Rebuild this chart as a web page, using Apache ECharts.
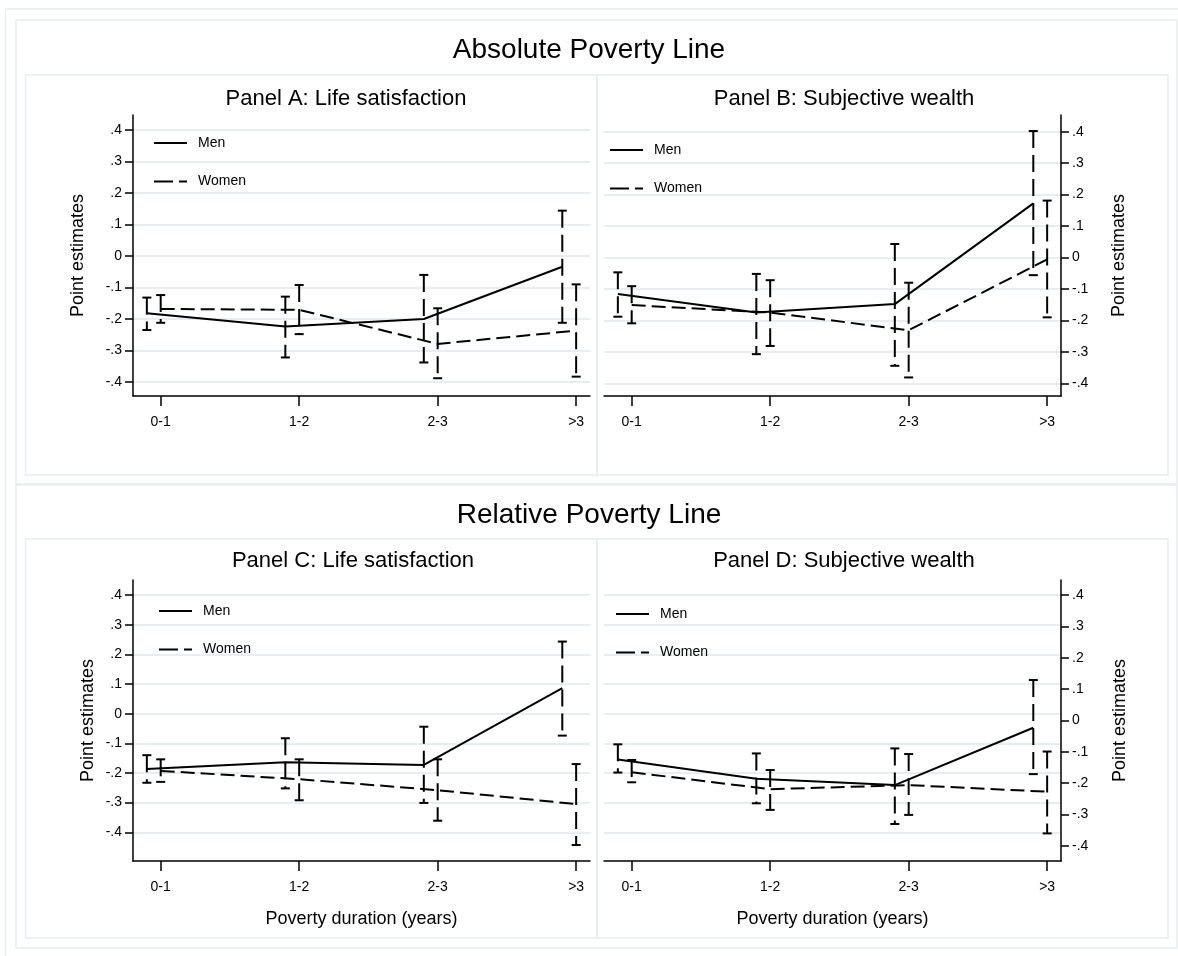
<!DOCTYPE html>
<html><head><meta charset="utf-8">
<script src="https://cdn.jsdelivr.net/npm/echarts@6/dist/echarts.min.js"></script>
<style>html,body{margin:0;padding:0;background:#fff}#c{width:1178px;height:956px}</style>
</head><body><div id="c"></div>
<script>
// ---- data ----
const categories = ['0-1', '1-2', '2-3', '>3'];
const yTicks = [-0.4, -0.3, -0.2, -0.1, 0, 0.1, 0.2, 0.3, 0.4];
const seriesNames = ['Men', 'Women'];

// Panel A: Life satisfaction (absolute poverty line)
const aMen      = [-0.182, -0.224, -0.200, -0.034];
const aMenLo    = [-0.235, -0.322, -0.338, -0.212];
const aMenHi    = [-0.132, -0.129, -0.060,  0.144];
const aWomen    = [-0.168, -0.171, -0.279, -0.237];
const aWomenLo  = [-0.212, -0.248, -0.388, -0.383];
const aWomenHi  = [-0.124, -0.092, -0.166, -0.090];

// Panel B: Subjective wealth (absolute poverty line)
const bMen      = [-0.116, -0.175, -0.148,  0.172];
const bMenLo    = [-0.188, -0.307, -0.344, -0.056];
const bMenHi    = [-0.047, -0.052,  0.043,  0.402];
const bWomen    = [-0.151, -0.175, -0.231, -0.006];
const bWomenLo  = [-0.209, -0.281, -0.381, -0.190];
const bWomenHi  = [-0.091, -0.072, -0.080,  0.181];

// Panel C: Life satisfaction (relative poverty line)
const cMen      = [-0.187, -0.164, -0.173,  0.086];
const cMenLo    = [-0.233, -0.252, -0.301, -0.074];
const cMenHi    = [-0.140, -0.083, -0.044,  0.243];
const cWomen    = [-0.193, -0.221, -0.258, -0.305];
const cWomenLo  = [-0.230, -0.292, -0.361, -0.443];
const cWomenHi  = [-0.154, -0.154, -0.154, -0.170];

// Panel D: Subjective wealth (relative poverty line)
const dMen      = [-0.124, -0.186, -0.206, -0.023];
const dMenLo    = [-0.166, -0.264, -0.330, -0.171];
const dMenHi    = [-0.076, -0.105, -0.089,  0.129];
const dWomen    = [-0.165, -0.219, -0.206, -0.227];
const dWomenLo  = [-0.197, -0.285, -0.301, -0.360];
const dWomenHi  = [-0.126, -0.158, -0.107, -0.099];

// ---- chart ----
const FONT = "'Liberation Sans', Arial, Helvetica, sans-serif";
const GRIDC = '#e6eef1';
const MEN_SHIFT = -0.1;

function fmtY(v) {
  if (Math.abs(v) < 1e-9) return '0';
  const s = (Math.round(v * 10) / 10).toString();
  return s.replace('0.', '.');
}

const grids = [
  {left: 133, top: 115, width: 457, height: 281},
  {left: 604, top: 115, width: 457, height: 281},
  {left: 133, top: 580, width: 457, height: 281},
  {left: 604, top: 580, width: 457, height: 281}
];

function xAx(g, withName) {
  return {
    type: 'value', gridIndex: g, min: 0.8, max: 4.1, position: 'bottom',
    axisLine: {onZero: false, lineStyle: {color: '#000', width: 1.5}},
    axisTick: {length: 10, customValues: [1, 2, 3, 4], lineStyle: {color: '#000', width: 1.5}},
    axisLabel: {customValues: [1, 2, 3, 4], formatter: v => categories[Math.round(v) - 1],
      color: '#000', fontSize: 14, fontFamily: FONT, margin: 19},
    splitLine: {show: false},
    name: withName ? 'Poverty duration (years)' : '',
    nameLocation: 'middle', nameGap: 49,
    nameTextStyle: {color: '#000', fontSize: 18, fontFamily: FONT}
  };
}

function yAx(g, pos, min, max, showAxis, showSplit, nameGap) {
  return {
    type: 'value', gridIndex: g, position: pos, min: min, max: max,
    axisLine: {show: showAxis, onZero: false, lineStyle: {color: '#000', width: 1.5}},
    axisTick: {show: showAxis, length: 8, customValues: yTicks, lineStyle: {color: '#000', width: 1.5}},
    axisLabel: {show: showAxis, customValues: yTicks, formatter: fmtY, color: '#000',
      fontSize: 14, fontFamily: FONT, margin: 11},
    splitLine: {show: showSplit, lineStyle: {color: GRIDC, width: 2}},
    name: showAxis ? 'Point estimates' : '',
    nameLocation: 'middle', nameGap: nameGap,
    nameTextStyle: {color: '#000', fontSize: 18, fontFamily: FONT}
  };
}

const xAxes = [xAx(0, false), xAx(1, false), xAx(2, true), xAx(3, true)];
const yAxes = [
  yAx(0, 'left', -0.4444, 0.4476, true, true, 46),
  yAx(1, 'right', -0.440, 0.453, true, true, 49),
  yAx(2, 'left', -0.4968, 0.4506, true, true, 36),
  yAx(3, 'right', -0.448, 0.448, true, false, 50),
  yAx(3, 'left', -0.4968, 0.4506, false, true, 0)   // gridline scale of panel D
];

function ciRender(params, api) {
  const x = api.value(0), lo = api.value(1), hi = api.value(2);
  const pHi = api.coord([x, hi]);
  const pLo = api.coord([x, lo]);
  const w = 4.5;
  const st = {stroke: '#000', lineWidth: 2};
  return {type: 'group', children: [
    {type: 'line', shape: {x1: pHi[0], y1: pHi[1], x2: pLo[0], y2: pLo[1]},
      style: Object.assign({lineDash: [17, 7]}, st)},
    {type: 'line', shape: {x1: pHi[0] - w, y1: pHi[1], x2: pHi[0] + w, y2: pHi[1]}, style: st},
    {type: 'line', shape: {x1: pLo[0] - w, y1: pLo[1], x2: pLo[0] + w, y2: pLo[1]}, style: st}
  ]};
}

const panels = [
  {men: aMen, menLo: aMenLo, menHi: aMenHi, wom: aWomen, womLo: aWomenLo, womHi: aWomenHi, y: 0},
  {men: bMen, menLo: bMenLo, menHi: bMenHi, wom: bWomen, womLo: bWomenLo, womHi: bWomenHi, y: 1},
  {men: cMen, menLo: cMenLo, menHi: cMenHi, wom: cWomen, womLo: cWomenLo, womHi: cWomenHi, y: 2},
  {men: dMen, menLo: dMenLo, menHi: dMenHi, wom: dWomen, womLo: dWomenLo, womHi: dWomenHi, y: 3}
];

const series = [];
panels.forEach((p, i) => {
  const mx = k => k + 1 + MEN_SHIFT;
  const wx = k => k + 1;
  series.push({
    type: 'custom', name: 'Men CI', xAxisIndex: i, yAxisIndex: p.y, renderItem: ciRender,
    encode: {x: 0, y: [1, 2]}, silent: true, z: 3,
    data: p.men.map((v, k) => [mx(k), p.menLo[k], p.menHi[k]])
  });
  series.push({
    type: 'custom', name: 'Women CI', xAxisIndex: i, yAxisIndex: p.y, renderItem: ciRender,
    encode: {x: 0, y: [1, 2]}, silent: true, z: 3,
    data: p.wom.map((v, k) => [wx(k), p.womLo[k], p.womHi[k]])
  });
  series.push({
    type: 'line', name: 'Men', xAxisIndex: i, yAxisIndex: p.y, symbol: 'none', z: 4,
    lineStyle: {color: '#000', width: 2, type: 'solid'}, itemStyle: {color: '#000'},
    data: p.men.map((v, k) => [mx(k), v])
  });
  series.push({
    type: 'line', name: 'Women', xAxisIndex: i, yAxisIndex: p.y, symbol: 'none', z: 4,
    lineStyle: {color: '#000', width: 2, type: [14, 6]}, itemStyle: {color: '#000'},
    data: p.wom.map((v, k) => [wx(k), v])
  });
});

const legendPos = [
  {left: 153, top: 136}, {left: 609, top: 143}, {left: 158, top: 604}, {left: 615, top: 607}
];
const legends = legendPos.map(p => ({
  data: [
    {name: seriesNames[0]},
    {name: seriesNames[1], lineStyle: {type: [19, 6], width: 2, color: '#000'}}
  ],
  orient: 'vertical', left: p.left, top: p.top, padding: 0,
  itemWidth: 33, itemHeight: 14, itemGap: 24.5, selectedMode: false,
  itemStyle: {opacity: 0, color: 'rgba(0,0,0,0)', borderWidth: 0},
  lineStyle: {width: 2, color: '#000', inactiveWidth: 2},
  textStyle: {color: '#000', fontSize: 14, fontFamily: FONT, padding: [0, 0, 0, 6]}
}));

function ttl(text, x, yc, size) {
  return {text: text, left: x, top: yc - size / 2, textAlign: 'center', padding: 0,
    textStyle: {color: '#000', fontSize: size, fontWeight: 'normal', fontFamily: FONT}};
}
const titles = [
  ttl('Absolute Poverty Line', 589, 50, 28),
  ttl('Relative Poverty Line', 589, 515, 28),
  ttl('Panel A: Life satisfaction', 346, 99, 22),
  ttl('Panel B: Subjective wealth', 844, 99, 22),
  ttl('Panel C: Life satisfaction', 353, 561, 22),
  ttl('Panel D: Subjective wealth', 844, 561, 22)
];

function box(x1, y1, x2, y2) {
  return {type: 'rect', silent: true, z: -10,
    shape: {x: x1, y: y1, width: x2 - x1, height: y2 - y1},
    style: {fill: 'none', stroke: GRIDC, lineWidth: 1.5}};
}
const graphics = [
  box(5.5, 9, 1187, 962),
  box(16, 20, 1177, 484),
  box(25.5, 75, 597, 475), box(597, 75, 1168, 475),
  box(16, 485, 1177, 948),
  box(25.5, 539, 597, 938), box(597, 539, 1168, 938)
];

const chart = echarts.init(document.getElementById('c'), null, {renderer: 'canvas'});
chart.setOption({
  backgroundColor: '#fff',
  animation: false,
  title: titles,
  legend: legends,
  grid: grids,
  xAxis: xAxes,
  yAxis: yAxes,
  series: series,
  graphic: graphics
});
</script></body></html>
